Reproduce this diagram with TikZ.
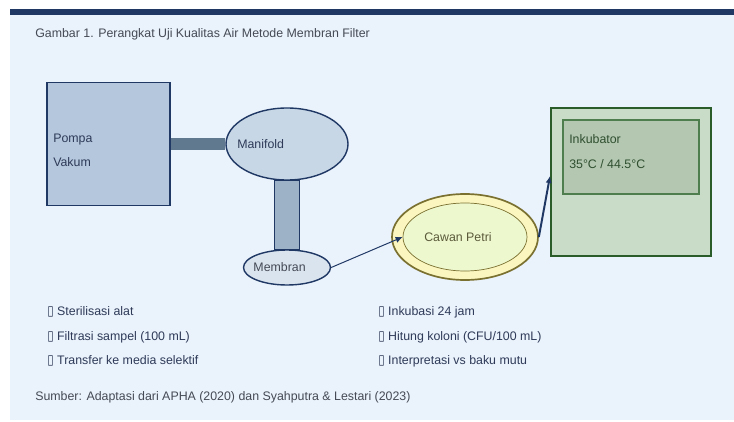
\documentclass[tikz,border=0pt]{standalone}
\usepackage{fontspec}
\setmainfont{Liberation Sans}
\newfontfamily\boxfont{DejaVu Sans}
\usepackage{tikz}
\usepackage{xcolor}
\usetikzlibrary{shapes,arrows.meta,positioning,calc}
\definecolor{FigNavy}{HTML}{1F3864}
\definecolor{FigPanel}{HTML}{EAF2FB}
\definecolor{FigPump}{HTML}{B4C7DC}
\definecolor{FigPipe}{HTML}{60798E}
\definecolor{FigManifold}{HTML}{C8D7E6}
\definecolor{FigStem}{HTML}{9DB2C7}
\definecolor{FigMembran}{HTML}{D9E4EF}
\definecolor{FigDishEdge}{HTML}{7A7030}
\definecolor{FigDishOut}{HTML}{FBF5C0}
\definecolor{FigDishIn}{HTML}{EEF8CE}
\definecolor{FigDishText}{HTML}{5A5A3A}
\definecolor{FigIncEdge}{HTML}{2A5C2A}
\definecolor{FigIncOut}{HTML}{C8DCC8}
\definecolor{FigIncIn}{HTML}{B3C7B1}
\definecolor{FigIncLine}{HTML}{4E7E4E}
\definecolor{FigIncText}{HTML}{2F4F2F}
\definecolor{FigText}{HTML}{2E3A58}
\definecolor{FigGrey}{HTML}{454A55}
\newcommand{\tofu}{{\boxfont\scalebox{0.95}[1.1]{▯}}}
\tikzset{
    % Base text style
    basetext/.style={
        font=\fontsize{8.8}{11}\selectfont,
        text=FigText,
        inner sep=0pt
    },
    % Pump box
    pumpnode/.style={
        draw=FigNavy,
        fill=FigPump,
        line width=1pt,
        minimum width=3.075cm,
        minimum height=3.075cm
    },
    % Blue ellipses
    ellnode/.style={
        ellipse,
        draw=FigNavy,
        line width=1pt,
        inner sep=0pt
    },
    % Petri dish rings
    dishnode/.style={
        ellipse,
        draw=FigDishEdge,
        inner sep=0pt
    },
    % Incubator boxes
    incnode/.style={
        draw=FigIncEdge,
        fill=FigIncOut,
        line width=1.4pt,
        minimum width=4cm,
        minimum height=3.7cm
    },
    % Arrow styles
    myarrow/.style={
        ->,
        >={Latex[length=5pt,width=4.5pt]},
        line width=0.7pt,
        draw=FigNavy
    },
    % Step list entries
    listnode/.style={
        basetext,
        anchor=west
    }
}
\begin{document}
\begin{tikzpicture}
    \useasboundingbox (0,0) rectangle (18.35,10.525);
    % Panel
    \fill[FigPanel] (0.25,0.025) rectangle (18.35,10.15);
    \fill[FigNavy] (0.25,10.15) rectangle (18.35,10.3);
    \node[basetext, text=FigGrey, anchor=west] (title) at (0.875,9.675)
        {Gambar 1. Perangkat Uji Kualitas Air Metode Membran Filter};

    % Vacuum line
    \node[pumpnode] (pompa) at (2.7125,6.925) {};
    \node[basetext, anchor=west, align=left] (pompalbl) at (1.325,6.76)
        {Pompa\\[6pt]Vakum};
    \node[ellnode, fill=FigManifold, minimum width=3.05cm, minimum height=1.8cm] (mani) at (7.175,6.925) {};
    \node[ellnode, fill=FigMembran, minimum width=2.175cm, minimum height=0.875cm] (memb) at (7.175,3.8375) {};
    \draw[FigPipe, line width=9.2pt] (pompa.east) -- (mani.west);
    \draw[draw=FigNavy, fill=FigStem, line width=0.8pt]
        ([xshift=-0.3125cm]mani.south) rectangle ([xshift=0.3125cm]memb.north);
    \node[basetext, anchor=west] (manilbl) at (5.925,6.925) {Manifold};
    \node[basetext, text=FigGrey] (memblbl) at (6.99,3.8375) {Membran};

    % Petri dish
    \node[dishnode, fill=FigDishOut, line width=1.2pt, minimum width=3.65cm, minimum height=2.15cm] (petri) at (11.625,4.6) {};
    \node[dishnode, fill=FigDishIn, line width=0.5pt, minimum width=3.1cm, minimum height=1.7cm] (petrin) at (11.625,4.6) {};
    \node[basetext, text=FigDishText] (petrilbl) at (11.45,4.6) {Cawan Petri};
    \draw[myarrow] (memb.east) -- (petrin.west);

    % Incubator
    \node[incnode] (inku) at (15.775,5.975) {};
    \node[incnode, draw=FigIncLine, fill=FigIncIn, line width=0.8pt, minimum width=3.4cm, minimum height=1.85cm] (inkin) at (15.775,6.6) {};
    \node[basetext, text=FigIncText, anchor=west] (inkulbl) at (14.225,7.05) {Inkubator};
    \node[basetext, text=FigIncText, anchor=west] (templbl) at (14.225,6.425) {35°C / 44.5°C};
    \draw[myarrow, line width=1.4pt] (petri.east) -- ([yshift=0.15cm]inku.west);

    % Steps
    \node[listnode] (st1) at (1.175,2.725) {\tofu\ Sterilisasi alat};
    \node[listnode] (st2) at (1.175,2.1) {\tofu\ Filtrasi sampel (100 mL)};
    \node[listnode] (st3) at (1.175,1.5) {\tofu\ Transfer ke media selektif};
    \node[listnode] (st4) at (9.45,2.725) {\tofu\ Inkubasi 24 jam};
    \node[listnode] (st5) at (9.45,2.1) {\tofu\ Hitung koloni (CFU/100 mL)};
    \node[listnode] (st6) at (9.45,1.5) {\tofu\ Interpretasi vs baku mutu};

    \node[basetext, text=FigGrey, anchor=west] (sumber) at (0.875,0.6)
        {Sumber: Adaptasi dari APHA (2020) dan Syahputra \& Lestari (2023)};
\end{tikzpicture}
\end{document}
